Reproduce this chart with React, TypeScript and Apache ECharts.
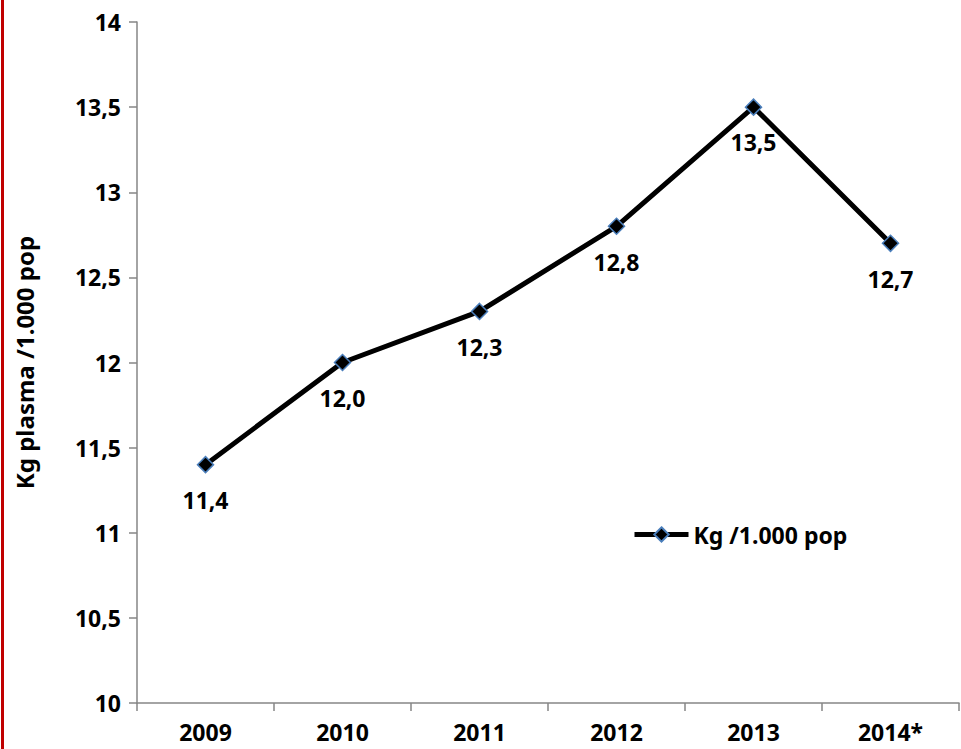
import React, { useEffect, useRef } from "react";
import * as echarts from "echarts";

const categories = ["2009", "2010", "2011", "2012", "2013", "2014*"];
const values = [11.4, 12.0, 12.3, 12.8, 13.5, 12.7];
const seriesName = "Kg /1.000 pop";
const yAxisName = "Kg plasma /1.000 pop";

const FONT = "'Noto Sans', 'Open Sans', sans-serif";
const FS = 23;

export default function App() {
  const ref = useRef<HTMLDivElement>(null);
  useEffect(() => {
    if (!ref.current) return;
    const chart = echarts.init(ref.current, undefined, { renderer: "svg" });
    chart.setOption({
      animation: false,
      backgroundColor: "#ffffff",
      grid: { left: 137, right: 2, top: 22, bottom: 46, containLabel: false },
      graphic: [
        {
          type: "rect",
          shape: { x: 1, y: 0, width: 3, height: 749 },
          style: { fill: "#c00000" },
          z: 100,
        },
      ],
      legend: {
        left: 632,
        top: 523,
        padding: 0,
        itemWidth: 54,
        itemHeight: 18,
        itemGap: 0,
        lineStyle: { width: 5, color: "#000" },
        textStyle: { fontFamily: FONT, fontWeight: "bold", fontSize: FS, color: "#000" },
        data: [seriesName],
      },
      xAxis: {
        type: "category",
        data: categories,
        boundaryGap: true,
        axisLine: { lineStyle: { color: "#868686", width: 1.5 } },
        axisTick: { show: true, length: 8, lineStyle: { color: "#868686", width: 1.5 } },
        axisLabel: {
          fontFamily: FONT,
          fontWeight: "bold",
          fontSize: FS,
          color: "#000",
          margin: 17,
        },
        splitLine: { show: false },
      },
      yAxis: {
        type: "value",
        min: 10,
        max: 14,
        interval: 0.5,
        name: yAxisName,
        nameLocation: "middle",
        nameGap: 101,
        nameRotate: 90,
        nameTextStyle: { fontFamily: FONT, fontWeight: "bold", fontSize: 24, color: "#000" },
        axisLine: { show: true, lineStyle: { color: "#868686", width: 1.5 } },
        axisTick: { show: true, length: 8, lineStyle: { color: "#868686", width: 1.5 } },
        axisLabel: {
          fontFamily: FONT,
          fontWeight: "bold",
          fontSize: FS,
          color: "#000",
          margin: 16,
          formatter: (v: number) => String(v).replace(".", ","),
        },
        splitLine: { show: false },
      },
      series: [
        {
          name: seriesName,
          type: "line",
          data: values,
          symbol: "diamond",
          symbolSize: 16,
          lineStyle: { color: "#000", width: 5 },
          itemStyle: { color: "#000", borderColor: "#4a7ebb", borderWidth: 1.5 },
          label: {
            show: true,
            position: "bottom",
            distance: 15,
            fontFamily: FONT,
            fontWeight: "bold",
            fontSize: FS,
            color: "#000",
            formatter: (p: any) => p.value.toFixed(1).replace(".", ","),
          },
        },
      ],
    });
    return () => chart.dispose();
  }, []);
  return (
    <div
      ref={ref}
      style={{ position: "fixed", left: 0, top: 0, width: 961, height: 749 }}
    />
  );
}
